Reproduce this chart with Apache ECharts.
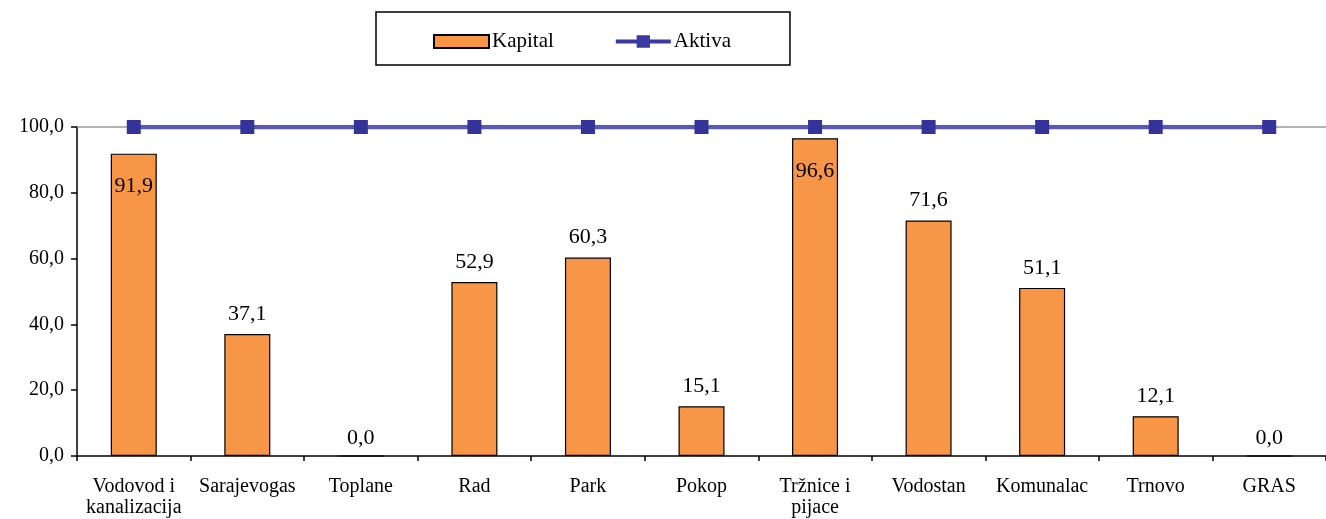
<!DOCTYPE html>
<html><head><meta charset="utf-8">
<script src="https://cdn.jsdelivr.net/npm/echarts@6/dist/echarts.min.js"></script>
<style>html,body{margin:0;padding:0;background:#fff}#c{width:1326px;height:519px}</style>
</head><body><div id="c"></div>
<script>
const categories = ['Vodovod i\nkanalizacija','Sarajevogas','Toplane','Rad','Park','Pokop','Tržnice i\npijace','Vodostan','Komunalac','Trnovo','GRAS'];
const kapital = [91.9, 37.1, 0.0, 52.9, 60.3, 15.1, 96.6, 71.6, 51.1, 12.1, 0.0];
const aktiva = [100, 100, 100, 100, 100, 100, 100, 100, 100, 100, 100];
const yTicks = [0, 20, 40, 60, 80, 100];

const font = 'Liberation Serif, Times New Roman, serif';
const fmt = v => Number(v).toFixed(1).replace('.', ',');
const chart = echarts.init(document.getElementById('c'));
chart.setOption({
  animation: false,
  textStyle: {fontFamily: font},
  legend: {
    left: 376, top: 12,
    data: [
      {name: 'Kapital', icon: 'rect'},
      {name: 'Aktiva', icon: 'path://M0,4.5H58V8.5H0Z M22,0H36V13H22Z', itemStyle: {color: '#3a3aa0'}}
    ],
    borderColor: '#000', borderWidth: 1.5,
    padding: [19, 59, 13, 57],
    itemGap: 62, itemWidth: 55, itemHeight: 13,
    textStyle: {fontFamily: font, fontSize: 21, color: '#000', padding: [0,0,0,-2]}
  },
  grid: {left: 77, top: 127, bottom: 63, width: 1258},
  xAxis: {
    type: 'category', data: categories,
    axisLine: {lineStyle: {color: '#000', width: 1.5}},
    axisTick: {show: true, length: 5, lineStyle: {color: '#000', width: 1.5}},
    axisLabel: {fontFamily: font, fontSize: 20, color: '#000', margin: 20, lineHeight: 21, interval: 0}
  },
  yAxis: {
    type: 'value', min: 0, max: 100, interval: 20,
    axisLine: {show: true, lineStyle: {color: '#000', width: 1.5}},
    axisTick: {show: true, length: 6, lineStyle: {color: '#000', width: 1.5}},
    splitLine: {show: false},
    axisLabel: {fontFamily: font, fontSize: 20, color: '#000', margin: 13, formatter: v => yTicks.includes(v) ? fmt(v) : ''}
  },
  series: [
    {
      name: 'Kapital', type: 'bar', barWidth: 46,
      itemStyle: {color: '#F79646', borderColor: '#000', borderWidth: 1.2},
      data: kapital.map(v => ({
        value: v,
        label: v > 90 ? {position: 'insideTop', distance: 22} : {position: 'top', distance: v === 0 ? 6 : 9}
      })),
      label: {show: true, fontFamily: font, fontSize: 22, color: '#000', formatter: p => fmt(p.value)},
      markLine: {
        silent: true, symbol: 'none', label: {show: false},
        lineStyle: {color: '#999', width: 1.5, type: 'solid'},
        data: [{yAxis: 100}], z: 1
      }
    },
    {
      name: 'Aktiva', type: 'line', data: aktiva, z: 5,
      symbol: 'rect', symbolSize: 14,
      itemStyle: {color: '#333399'},
      lineStyle: {color: '#5a5ab4', width: 4.5}
    }
  ]
});
</script></body></html>
